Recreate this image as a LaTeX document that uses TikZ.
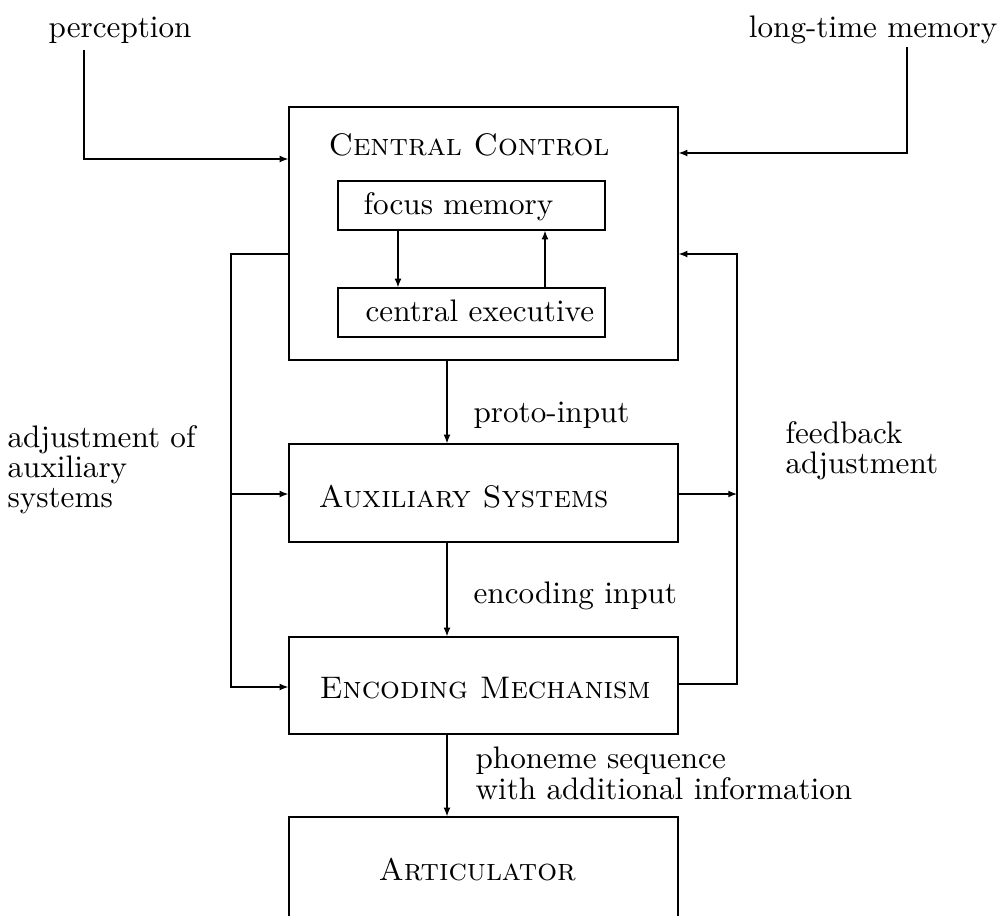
\documentclass[tikz,border=0pt]{standalone}
\usetikzlibrary{arrows.meta}

\newcommand{\pxu}{0.321pt}
\tikzset{
  box/.style={draw, inner sep=0pt, minimum width=389*\pxu},
  inbox/.style={draw, inner sep=0pt, minimum width=267*\pxu, minimum height=49*\pxu},
  txt/.style={inner sep=0pt, anchor=base west},
  multi/.style={inner sep=0pt, anchor=north west, align=left, font=\fontsize{10}{9.6}\selectfont},
  arr/.style={-{Latex[length=2.8pt,width=2.2pt]}},
}

\begin{document}
\begin{tikzpicture}[x=\pxu,y=-\pxu]
\useasboundingbox (0,0) rectangle (1005,915);

%Shape: boxes
\node[box, minimum height=253*\pxu] (ctrl) at (483.5,233.5) {};
\node[inbox] (focus) at (471.5,205.5) {};
\node[inbox] (exec) at (471.5,312.5) {};
\node[box, minimum height=98*\pxu] (aux) at (483.5,493) {};
\node[box, minimum height=97*\pxu] (enc) at (483.5,685.5) {};
\node[box, minimum height=118*\pxu] (art) at (483.5,876) {};

% Text Node
\node[txt] (ctrltxt) at (328,155) {\textsc{Central Control}};
\node[txt] (focustxt) at (363,214) {focus memory};
\node[txt] (exectxt) at (365,321) {central executive};
\node[txt] (auxtxt) at (318,507) {\textsc{Auxiliary Systems}};
\node[txt] (enctxt) at (319,698) {\textsc{Encoding Mechanism}};
\node[txt] (arttxt) at (378,880) {\textsc{Articulator}};

% Text Node
\node[txt] (perc) at (48,37) {perception};
\node[txt, anchor=base east] (ltm) at (998,37) {long-time memory};
\node[txt] (proto) at (473,422) {proto-input};
\node[txt] (encin) at (473,603) {encoding input};
\node[multi, font=\fontsize{10}{8.6}\selectfont] (phon) at (475,746) {phoneme sequence\\with additional information};
\node[multi] (adjaux) at (7,425) {adjustment of\\auxiliary\\systems};
\node[multi] (feed) at (785,421) {feedback\\adjustment};

%Straight Lines: inputs
\coordinate (percfoot) at (84,50);
\coordinate (ltmfoot) at (907,47);
\draw[arr] (percfoot) |- (ctrl.west |- 0,159);
\draw[arr] (ltmfoot) |- (ctrl.east |- 0,153);

%Straight Lines: inside control
\draw[arr] (focus.south -| 398,0) -- (exec.north -| 398,0);
\draw[arr] (exec.north -| 545,0) -- (focus.south -| 545,0);

%Straight Lines: main chain
\draw[arr] (ctrl.south -| 447,0) -- (aux.north -| 447,0);
\draw[arr] (aux.south -| 447,0) -- (enc.north -| 447,0);
\draw[arr] (enc.south -| 447,0) -- (art.north -| 447,0);

%Straight Lines: adjustment loops
\coordinate (lft) at (231,254);
\coordinate (rgt) at (737,254);
\draw[arr] (ctrl.west |- lft) -- (lft) |- (enc.west |- 0,687);
\draw[arr] (lft |- 0,494) -- (aux.west |- 0,494);
\draw[arr] (enc.east |- 0,684) -| (rgt) -- (ctrl.east |- rgt);
\draw[arr] (aux.east |- 0,494) -- (rgt |- 0,494);

\end{tikzpicture}
\end{document}
